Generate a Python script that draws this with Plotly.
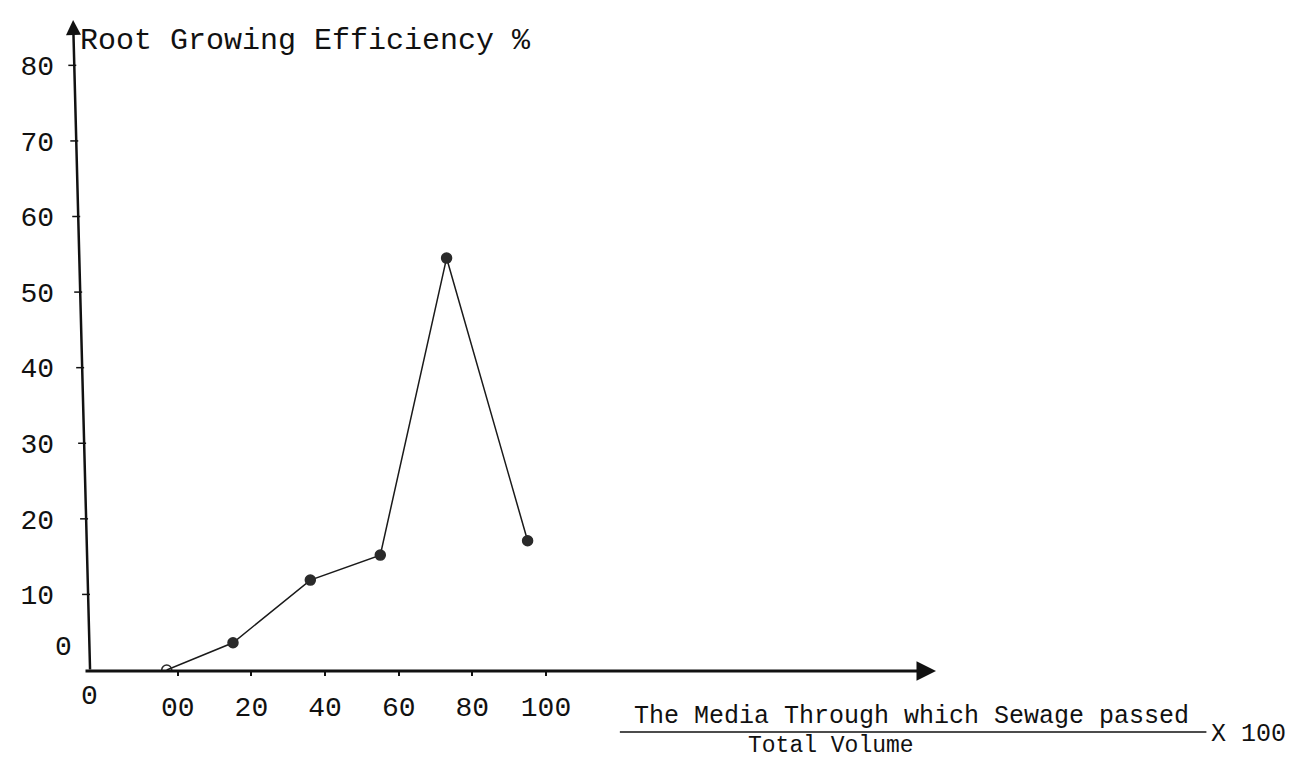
import plotly.graph_objects as go

# ---- data ----
media_pct = [-3, 15, 36, 55, 73, 95]          # x: media fraction x 100
root_eff = [0, 3.6, 11.9, 15.2, 54.5, 17.1]   # y: root growing efficiency %
point_symbols = ["circle-open", "circle", "circle", "circle", "circle", "circle"]

x_tickvals = [0, 20, 40, 60, 80, 100]
x_ticktext = ["00", "20", "40", "60", "80", "100"]
y_tickvals = [10, 20, 30, 40, 50, 60, 70, 80]
y_ticktext = ["10", "20", "30", "40", "50", "60", "70", "80"]

title_text = "Root Growing Efficiency %"
xtitle_num = "The Media Through which Sewage passed"
xtitle_den = "Total Volume"
xtitle_mul = "X 100"

# ---- layout geometry ----
W, H = 1294, 759
ML, MR, MT, MB = 76, 366, 12, 97
PW, PH = W - ML - MR, H - MT - MB
X_RANGE = [-24.1, 205.9]
Y_RANGE = [0, 86]
FONT = "Liberation Mono"
INK = "#111111"


def px_x(px):
    return (px - ML) / PW


def px_y(py):
    return (H - MB - py) / PH


fig = go.Figure()
fig.add_trace(go.Scatter(
    x=media_pct, y=root_eff, mode="lines+markers",
    line=dict(color="#1a1a1a", width=1.5),
    marker=dict(size=10, color="#2a2a2a", symbol=point_symbols,
                line=dict(color="#2a2a2a", width=1.5)),
    showlegend=False, hoverinfo="x+y",
))

shapes = []
# slanted hand-drawn y axis ticks (following the axis line)
def axis_px_at(v):
    return 77 - (v / Y_RANGE[1]) * 17

for v in y_tickvals:
    ax_px = axis_px_at(v)
    shapes.append(dict(type="line", xref="paper", yref="y",
                       x0=px_x(ax_px - 6), x1=px_x(ax_px + 2), y0=v, y1=v,
                       line=dict(color=INK, width=1.5)))
# fraction bar under the x-axis title
shapes.append(dict(type="line", xref="paper", yref="paper",
                   x0=px_x(610), x1=px_x(1200), y0=px_y(724), y1=px_y(724),
                   line=dict(color=INK, width=1.5)))

annotations = [
    # y axis with arrow head (slightly slanted, as drawn)
    dict(xref="paper", yref="paper", x=px_x(60), y=px_y(12), ax=17, ay=651,
         axref="pixel", ayref="pixel", text="", showarrow=True,
         arrowhead=2, arrowsize=1.2, arrowwidth=2.5, arrowcolor=INK, standoff=0),
    # x axis with arrow head
    dict(xref="paper", yref="paper", x=px_x(928), y=px_y(663), ax=-852, ay=0,
         text="", showarrow=True, arrowhead=2, arrowsize=1.3, arrowwidth=3,
         arrowcolor=INK, standoff=0),
    # title
    dict(xref="paper", yref="paper", x=px_x(65), y=px_y(33), xanchor="left",
         yanchor="middle", text=title_text, showarrow=False,
         font=dict(family=FONT, size=30, color=INK)),
    # origin labels
    dict(xref="x", yref="paper", x=X_RANGE[0], y=0, yshift=-26,
         xanchor="center", yanchor="middle", text="0", showarrow=False,
         font=dict(family=FONT, size=28, color=INK)),
    dict(xref="paper", yref="y", x=px_x(61), y=0, yshift=23,
         xanchor="right", yanchor="middle", text="0", showarrow=False,
         font=dict(family=FONT, size=28, color=INK)),
    # x axis title as a fraction
    dict(xref="paper", yref="paper", x=px_x(623), y=px_y(708), xanchor="left",
         yanchor="middle", text=xtitle_num, showarrow=False, borderpad=0,
         font=dict(family=FONT, size=25, color=INK)),
    dict(xref="paper", yref="paper", x=px_x(738), y=px_y(738), xanchor="left",
         yanchor="middle", text=xtitle_den, showarrow=False, borderpad=0,
         font=dict(family=FONT, size=23, color=INK)),
    dict(xref="paper", yref="paper", x=px_x(1204), y=px_y(726), xanchor="left",
         yanchor="middle", text=xtitle_mul, showarrow=False, borderpad=0,
         font=dict(family=FONT, size=25, color=INK)),
]

fig.update_layout(
    width=W, height=H,
    margin=dict(l=ML, r=MR, t=MT, b=MB, pad=0),
    paper_bgcolor="white", plot_bgcolor="white",
    shapes=shapes, annotations=annotations,
    xaxis=dict(range=X_RANGE, tickvals=x_tickvals, ticktext=x_ticktext,
               showgrid=False, zeroline=False, showline=False,
               ticks="outside", ticklen=5, tickwidth=1.5, tickcolor=INK,
               ticklabelstandoff=6,
               tickfont=dict(family=FONT, size=28, color=INK)),
    yaxis=dict(range=Y_RANGE, tickvals=y_tickvals, ticktext=y_ticktext,
               showgrid=False, zeroline=False, showline=False, ticks="",
               ticklabelstandoff=34,
               tickfont=dict(family=FONT, size=28, color=INK)),
)

fig.write_html("out.html")
